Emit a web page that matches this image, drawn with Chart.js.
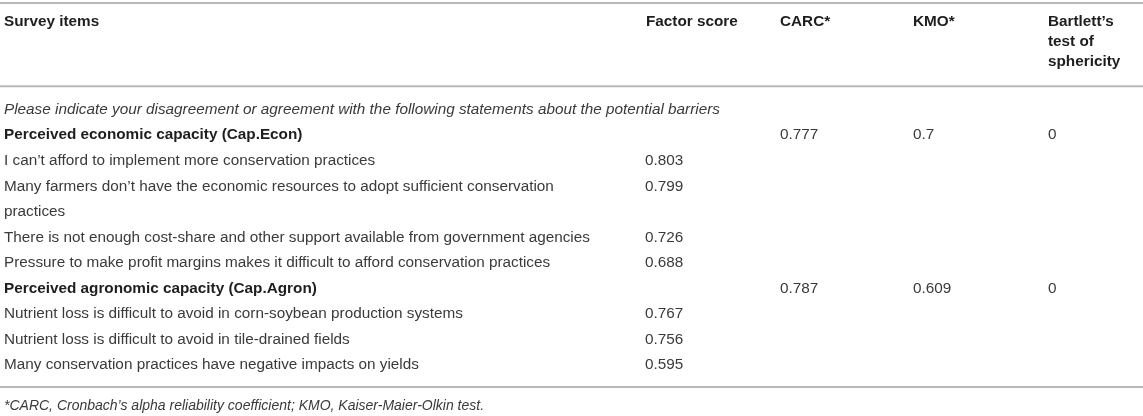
<!DOCTYPE html>
<html><head><meta charset="utf-8">
<script src="https://cdn.jsdelivr.net/npm/chart.js@4/dist/chart.umd.min.js"></script>
<style>html,body{margin:0;padding:0;background:#fff;overflow:hidden}</style>
</head><body>
<canvas id="c" width="1143" height="416" style="width:1143px;height:416px;display:block"></canvas>
<script>
// ---- data ----
const headers = ["Survey items", "Factor score", "CARC*", "KMO*", "Bartlett’s\ntest of\nsphericity"];
const promptText = "Please indicate your disagreement or agreement with the following statements about the potential barriers";
const groups = ["Perceived economic capacity (Cap.Econ)", "Perceived agronomic capacity (Cap.Agron)"];
const carc = [0.777, 0.787];
const kmo = [0.7, 0.609];
const bartlett = [0, 0];
const econItems = [
  "I can’t afford to implement more conservation practices",
  "Many farmers don’t have the economic resources to adopt sufficient conservation\npractices",
  "There is not enough cost-share and other support available from government agencies",
  "Pressure to make profit margins makes it difficult to afford conservation practices"
];
const econScores = [0.803, 0.799, 0.726, 0.688];
const agronItems = [
  "Nutrient loss is difficult to avoid in corn-soybean production systems",
  "Nutrient loss is difficult to avoid in tile-drained fields",
  "Many conservation practices have negative impacts on yields"
];
const agronScores = [0.767, 0.756, 0.595];
const footnote = "*CARC, Cronbach’s alpha reliability coefficient; KMO, Kaiser-Maier-Olkin test.";

// ---- layout (not data) ----
const COLX = [4, 645, 780, 913, 1048];   // x-scale units
const HEAD_X = [4, 646, 780, 913, 1048];
const LINE_GAP_HDR = 0.78;               // header line spacing in row units
const HDR_Y = -3.44, RULES = [-4.18, -0.92, 10.86], FOOT_Y = 11.62;

// build body rows (row units on the y scale)
const body = [];
const cells = { factor: [], carc: [], kmo: [], bart: [] };
let line = 0;
body.push({ text: promptText, style: 'italic', y: line }); line++;
[[econItems, econScores], [agronItems, agronScores]].forEach(([items, scores], g) => {
  body.push({ text: groups[g], style: 'bold', y: line });
  cells.carc.push({ x: COLX[2], y: line, v: carc[g] });
  cells.kmo.push({ x: COLX[3], y: line, v: kmo[g] });
  cells.bart.push({ x: COLX[4], y: line, v: bartlett[g] });
  line++;
  items.forEach((t, i) => {
    const parts = t.split("\n");
    body.push({ text: t, style: 'normal', y: line });
    cells.factor.push({ x: COLX[1], y: line, v: scores[i] });
    line += parts.length;
  });
});

const FONT = '"Liberation Sans", Arial, Helvetica, sans-serif';
const FS = '15.3px ';
const TXT = '#3a3a3a', HDR = '#1e1e1e', RULE = '#b8b8b8';

const tablePlugin = {
  id: 'table',
  afterDatasetsDraw(chart) {
    const ctx = chart.ctx, xs = chart.scales.x, ys = chart.scales.y;
    const X = v => xs.getPixelForValue(v), Y = v => ys.getPixelForValue(v);
    ctx.save();
    ctx.strokeStyle = RULE; ctx.lineWidth = 2;
    RULES.forEach(r => { ctx.beginPath(); ctx.moveTo(X(0), Y(r)); ctx.lineTo(X(1143), Y(r)); ctx.stroke(); });
    ctx.textBaseline = 'middle'; ctx.textAlign = 'left';
    ctx.fillStyle = HDR; ctx.font = 'bold ' + FS + FONT;
    headers.forEach((h, i) => {
      h.split("\n").forEach((ln, k) => ctx.fillText(ln, X(HEAD_X[i]), Y(HDR_Y + k * LINE_GAP_HDR)));
    });
    body.forEach(r => {
      if (r.style === 'italic') { ctx.font = 'italic ' + FS + FONT; ctx.fillStyle = TXT; }
      else if (r.style === 'bold') { ctx.font = 'bold ' + FS + FONT; ctx.fillStyle = HDR; }
      else { ctx.font = FS + FONT; ctx.fillStyle = TXT; }
      r.text.split("\n").forEach((ln, k) => ctx.fillText(ln, X(COLX[0]), Y(r.y + k)));
    });
    ctx.font = FS + FONT; ctx.fillStyle = TXT;
    chart.data.datasets.forEach((ds, di) => {
      const meta = chart.getDatasetMeta(di);
      meta.data.forEach((el, i) => ctx.fillText(String(ds.data[i].v), el.x, el.y));
    });
    ctx.font = 'italic 14px ' + FONT; ctx.fillStyle = TXT;
    ctx.fillText(footnote, X(COLX[0]), Y(FOOT_Y));
    ctx.restore();
  }
};

new Chart(document.getElementById('c'), {
  type: 'scatter',
  data: {
    datasets: [
      { label: 'Factor score', data: cells.factor },
      { label: 'CARC', data: cells.carc },
      { label: 'KMO', data: cells.kmo },
      { label: 'Bartlett', data: cells.bart }
    ].map(d => Object.assign(d, { pointRadius: 0, pointHoverRadius: 0, showLine: false }))
  },
  options: {
    responsive: false, animation: false, devicePixelRatio: 1,
    layout: { padding: 0 },
    events: [],
    plugins: { legend: { display: false }, tooltip: { enabled: false } },
    scales: {
      x: { type: 'linear', min: 0, max: 1143, display: false },
      y: { type: 'linear', min: -4.3, max: 12, reverse: true, display: false }
    }
  },
  plugins: [tablePlugin]
});
</script>
</body></html>
